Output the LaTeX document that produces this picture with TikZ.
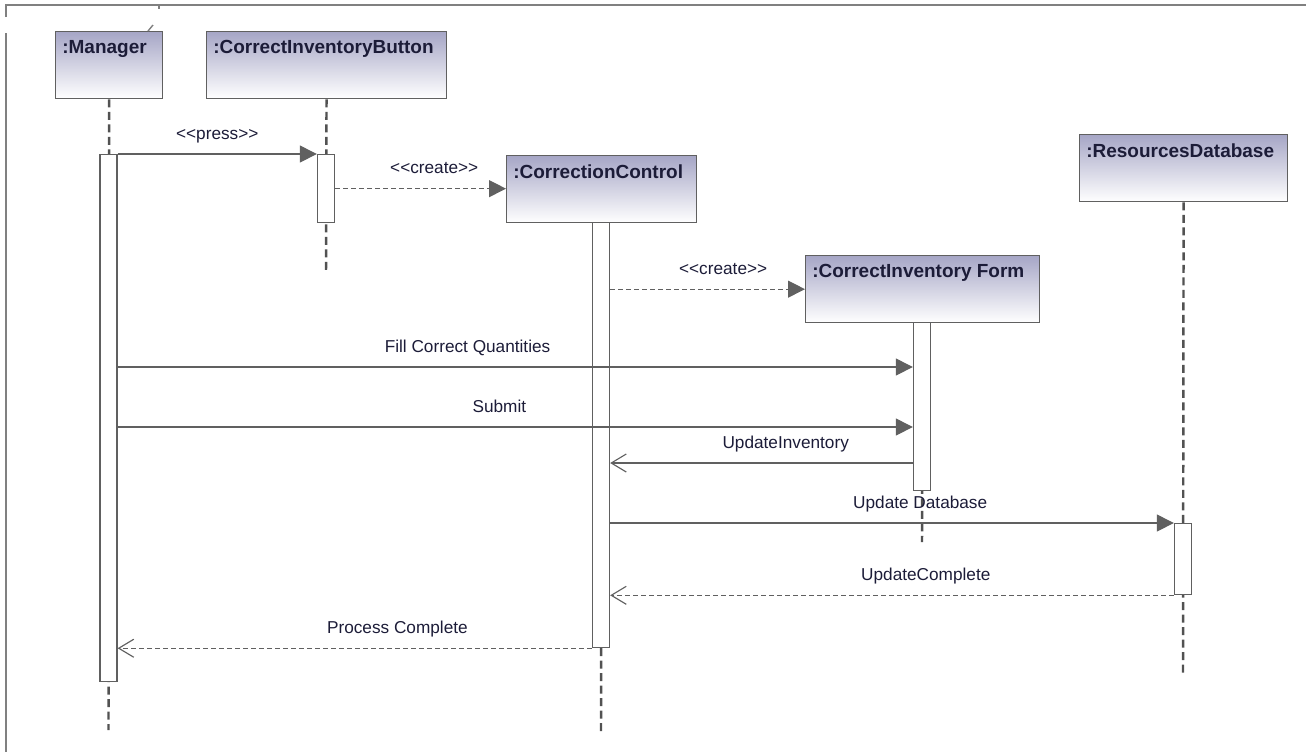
\documentclass[tikz,border=0pt]{standalone}
\usepackage{fontspec}
\setmainfont{Liberation Sans}
\usepackage{xcolor}
\usetikzlibrary{arrows.meta}
\definecolor{edgegray}{RGB}{96,96,96}
\definecolor{headtop}{RGB}{166,166,198}
\definecolor{inktext}{RGB}{28,28,56}
\tikzset{
  head/.style={rectangle, draw=edgegray, line width=0.75pt, top color=headtop, bottom color=white, anchor=north west, inner sep=0pt, minimum height=1.34cm},
  head_text/.style={anchor=north west, inner xsep=0.14cm, inner ysep=0.18cm, font=\fontsize{10.8}{13}\selectfont\bfseries, text=inktext},
  actbar/.style={rectangle, draw=edgegray, line width=0.75pt, fill=white, minimum width=0.34cm, anchor=north, inner sep=0pt},
  lifeline/.style={draw=edgegray!85!black, line width=1.4pt, dash pattern=on 0.16cm off 0.09cm},
  msg/.style={draw=edgegray, line width=0.65pt, -{Triangle[length=0.34cm,width=0.34cm]}},
  reply/.style={draw=edgegray, line width=0.65pt, -{Straight Barb[length=0.3cm,width=0.36cm]}},
  thin_dash/.style={dash pattern=on 0.1cm off 0.06cm},
  msg_text/.style={font=\fontsize{9.8}{12}\selectfont, text=inktext, anchor=base, yshift=0.3cm, inner sep=0pt},
  frame/.style={draw=gray, line width=0.8pt}
}
\begin{document}
\begin{tikzpicture}[x=0.02cm, y=-0.02cm]
  \useasboundingbox (0,0) rectangle (1306,752);

  % Frame
  \draw[frame] (6,17) -- (6,5) -- (1306,5);
  \draw[frame] (159,5) -- (159,9);
  \draw[frame] (6,33) -- (6,752);

  % Lifeline ends and message rows
  \coordinate (mgr_end) at (108.5,730);
  \coordinate (btn_end) at (326,274);
  \coordinate (cc_end) at (601,733);
  \coordinate (form_end) at (922,542);
  \coordinate (db_end) at (1183,673);
  \coordinate (r_fill) at (0,367);
  \coordinate (r_submit) at (0,427);
  \coordinate (r_upinv) at (0,463);

  % Heads
  \node[head, minimum width=2.14cm, label={[head_text]north west:{:Manager}}] (mgr) at (55,31) {};
  \node[head, minimum width=4.8cm, label={[head_text]north west:{:CorrectInventoryButton}}] (btn) at (206,31) {};
  \node[head, minimum width=3.8cm, label={[head_text]north west:{:CorrectionControl}}] (cc) at (506,155) {};
  \node[head, minimum width=4.68cm, label={[head_text]north west:{:CorrectInventory Form}}] (form) at (805,255) {};
  \node[head, minimum width=4.16cm, label={[head_text]north west:{:ResourcesDatabase}}] (db) at (1079,134) {};
  \draw[frame] (148,31) -- (153,25);

  % Lifelines
  \draw[lifeline] (mgr) -- (mgr_end);
  \draw[lifeline] (btn) -- (btn_end);
  \draw[lifeline] (cc) -- (cc_end);
  \draw[lifeline] (form) -- (form_end);
  \draw[lifeline] (db) -- (db_end);

  % Activation bars
  \node[actbar, minimum height=10.54cm] (mgrbar) at (108.5,154) {};
  \node[actbar, minimum height=1.36cm] (btnbar) at (326,154) {};
  \node[actbar, minimum height=8.5cm] (ccbar) at (601,222) {};
  \node[actbar, minimum height=3.36cm] (formbar) at (922,322) {};
  \node[actbar, minimum height=1.42cm] (dbbar) at (1183,523) {};

  % Messages
  \draw[msg] (mgrbar.north east) -- node[msg_text, pos=0.5] {{<}{<}press{>}{>}} (btnbar.north west);
  \draw[msg, thin_dash] (btnbar.east) -- node[msg_text, pos=0.58] {{<}{<}create{>}{>}} (btnbar.east -| cc.west);
  \draw[msg, thin_dash] (ccbar.east |- form.west) -- node[msg_text, pos=0.58] {{<}{<}create{>}{>}} (form.west);
  \draw[msg] (mgrbar.east |- r_fill) -- node[msg_text, pos=0.44] {Fill Correct Quantities} (formbar.west |- r_fill);
  \draw[msg] (mgrbar.east |- r_submit) -- node[msg_text, pos=0.48] {Submit} (formbar.west |- r_submit);
  \draw[reply] (formbar.west |- r_upinv) -- node[msg_text, pos=0.42] {UpdateInventory} (ccbar.east |- r_upinv);
  \draw[msg] (ccbar.east |- dbbar.north) -- node[msg_text, pos=0.55] {Update Database} (dbbar.north west);
  \draw[reply, thin_dash] (dbbar.south west) -- node[msg_text, pos=0.44] {UpdateComplete} (ccbar.east |- dbbar.south);
  \draw[reply, thin_dash] (ccbar.south west) -- node[msg_text, pos=0.41] {Process Complete} (mgrbar.east |- ccbar.south);
\end{tikzpicture}
\end{document}
